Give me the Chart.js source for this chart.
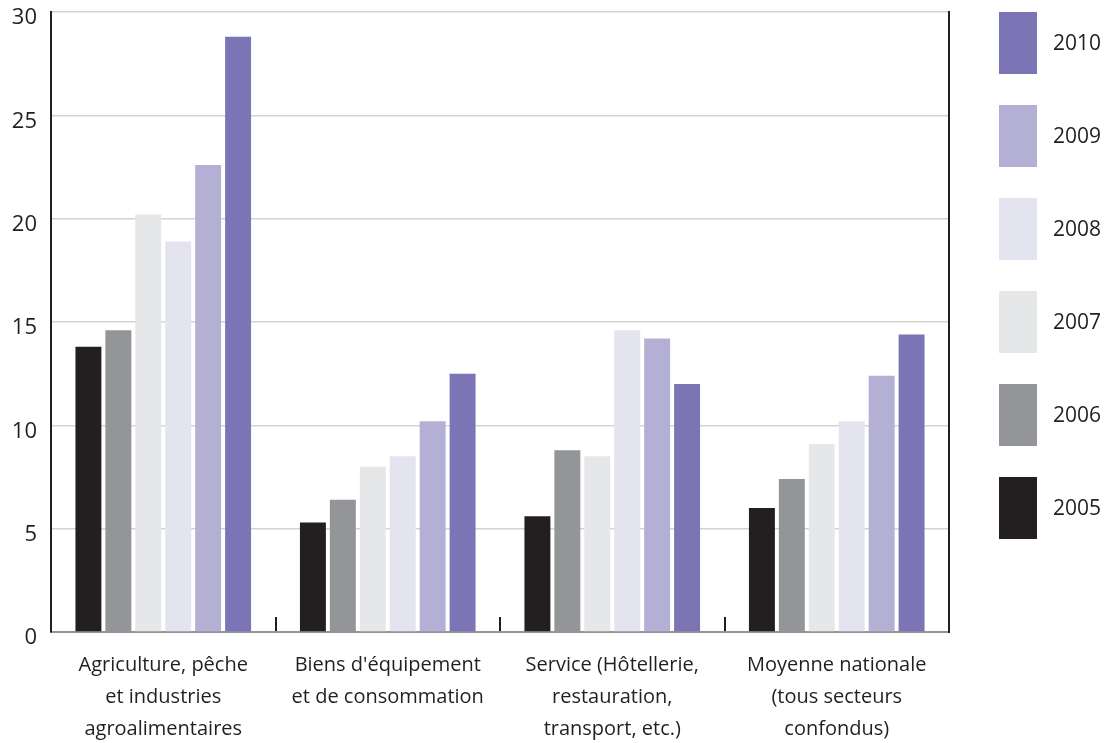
<!DOCTYPE html>
<html lang="fr">
<head>
<meta charset="utf-8">
<title>Graphique</title>
<script src="https://cdn.jsdelivr.net/npm/chart.js@4"></script>
<style>
    html, body { margin: 0; padding: 0; background: #ffffff; }
    #kast { width: 1109px; height: 743px; position: relative; }
</style>
</head>
<body>
<div id="kast"><canvas id="diagramm"></canvas></div>
<script>
// Kategooriad (mitmerealised sildid)
const kategooriad = [
    ["Agriculture, pêche", "et industries", "agroalimentaires"],
    ["Biens d'équipement", "et de consommation"],
    ["Service (Hôtellerie,", "restauration,", "transport, etc.)"],
    ["Moyenne nationale", "(tous secteurs", "confondus)"]
];

// Aastad ja väärtused
const aastad = ["2005", "2006", "2007", "2008", "2009", "2010"];
const vaartused2005 = [13.8, 5.3, 5.6, 6.0];
const vaartused2006 = [14.6, 6.4, 8.8, 7.4];
const vaartused2007 = [20.2, 8.0, 8.5, 9.1];
const vaartused2008 = [18.9, 8.5, 14.6, 10.2];
const vaartused2009 = [22.6, 10.2, 14.2, 12.4];
const vaartused2010 = [28.8, 12.5, 12.0, 14.4];
const koikVaartused = [vaartused2005, vaartused2006, vaartused2007, vaartused2008, vaartused2009, vaartused2010];

// Y-telje jaotused
const yMin = 0;
const yMax = 30;
const ySamm = 5;

const varvid = ["#231f20", "#939598", "#e6e7e8", "#e4e4f1", "#b4b0d5", "#7b74b5"];
const tekstiVarv = "#231f20";
const font = "'Open Sans', 'Noto Sans', sans-serif";

// Legend joonistatakse ise (kõrged ristkülikud paremal)
const legendPlugin = {
    id: 'legendPlugin',
    afterDraw(chart) {
        const ctx = chart.ctx;
        const ala = chart.chartArea;
        const kastX = ala.right + 50;
        const kastLaius = 38;
        const kastKorgus = 62;
        const vahe = 93;
        const hulk = chart.data.datasets.length;
        ctx.save();
        ctx.font = "21px " + font;
        ctx.textBaseline = "middle";
        ctx.textAlign = "left";
        for (let i = 0; i < hulk; i++) {
            // 2010 üleval, 2005 all
            const ds = chart.data.datasets[hulk - 1 - i];
            const y = ala.top + i * vahe;
            ctx.fillStyle = ds.backgroundColor;
            ctx.fillRect(kastX, y, kastLaius, kastKorgus);
            ctx.fillStyle = tekstiVarv;
            ctx.fillText(ds.label, kastX + kastLaius + 16, y + kastKorgus / 2 + 1);
        }
        ctx.restore();
    }
};

const ctx = document.getElementById('diagramm').getContext('2d');
new Chart(ctx, {
    type: 'bar',
    data: {
        labels: kategooriad,
        datasets: aastad.map((aasta, i) => ({
            label: aasta,
            data: koikVaartused[i],
            backgroundColor: varvid[i],
            borderWidth: 0,
            barPercentage: 0.867,
            categoryPercentage: 0.8
        }))
    },
    options: {
        responsive: true,
        maintainAspectRatio: false,
        animation: false,
        layout: {
            padding: { top: 12, right: 160, left: 0, bottom: 0 }
        },
        plugins: {
            legend: { display: false },
            tooltip: { enabled: false }
        },
        scales: {
            x: {
                offset: true,
                grid: {
                    offset: true,
                    drawOnChartArea: false,
                    color: "#231f20",
                    lineWidth: 2,
                    tickLength: -15
                },
                border: { color: "#939598", width: 2 },
                ticks: {
                    color: tekstiVarv,
                    padding: 32,
                    maxRotation: 0,
                    font: { family: font, size: 20, lineHeight: 1.6 }
                },
                afterFit(skaala) { skaala.height = 111; }
            },
            y: {
                min: yMin,
                max: yMax,
                grid: {
                    color: "#d1d3d4",
                    lineWidth: 1.5,
                    drawTicks: false
                },
                border: { color: "#231f20", width: 2 },
                ticks: {
                    stepSize: ySamm,
                    color: tekstiVarv,
                    padding: 14,
                    labelOffset: 6,
                    font: { family: font, size: 22 }
                },
                afterFit(skaala) {
                    skaala.width = 51;
                    skaala.paddingTop = 0;
                    skaala.paddingBottom = 0;
                }
            },
            y2: {
                position: 'right',
                min: yMin,
                max: yMax,
                grid: { display: false, drawTicks: false },
                border: { color: "#231f20", width: 2 },
                ticks: { display: false },
                afterFit(skaala) { skaala.width = 0; }
            }
        }
    },
    plugins: [legendPlugin]
});
</script>
</body>
</html>
